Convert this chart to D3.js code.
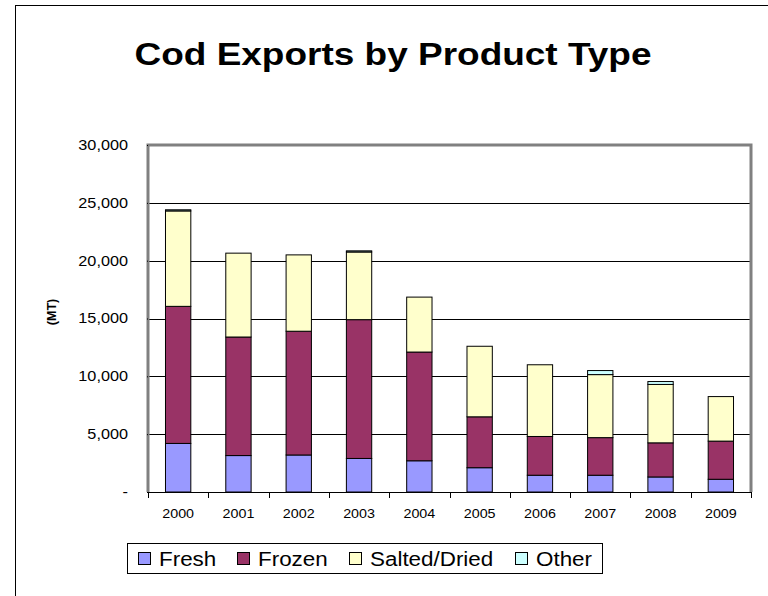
<!DOCTYPE html>
<html>
<head>
<meta charset="utf-8">
<script src="https://cdn.jsdelivr.net/npm/d3@7"></script>
<style>
  body { margin: 0; background: #fff; }
  svg { display: block; font-family: "Liberation Sans", Arial, sans-serif; }
</style>
</head>
<body>
<svg id="chart" width="768" height="596"></svg>
<script>
const years = ['2000', '2001', '2002', '2003', '2004', '2005', '2006', '2007', '2008', '2009']
const fresh = [4200, 3150, 3200, 2900, 2700, 2100, 1450, 1450, 1300, 1100]
const frozen = [11850, 10250, 10700, 12000, 9400, 4400, 3350, 3250, 2950, 3300]
const salted = [8250, 7250, 6600, 5850, 4750, 6100, 6200, 5450, 5050, 3850]
const other = [100, 0, 0, 100, 0, 0, 0, 350, 250, 0]
const seriesNames = ['Fresh', 'Frozen', 'Salted/Dried', 'Other']
const yTicks = [0, 5000, 10000, 15000, 20000, 25000, 30000]

const colors = ['#9999ff', '#993366', '#ffffcc', '#ccffff']
const FONT = '"Liberation Sans", Arial, sans-serif'

// the original chart is a bit wider than tall in its lettering
function stretch(sel, k) {
    sel.each(function() {
        const w = this.getComputedTextLength()
        d3.select(this).attr('textLength', w * k).attr('lengthAdjust', 'spacingAndGlyphs')
    })
}

const svg = d3.select('#chart')
const margin = {top: 145, right: 17, bottom: 104, left: 148}
const width = 768 - margin.left - margin.right
const height = 596 - margin.top - margin.bottom

// outer frame (cut off on right and bottom like the original)
svg.append('rect')
    .attr('x', 15.5).attr('y', 5.5)
    .attr('width', 800).attr('height', 700)
    .attr('fill', 'none').attr('stroke', '#000').attr('stroke-width', 1)

svg.append('text')
    .attr('x', 393).attr('y', 65)
    .attr('text-anchor', 'middle')
    .attr('font-size', 32).attr('font-weight', 'bold')
    .text('Cod Exports by Product Type')
    .attr('textLength', 517).attr('lengthAdjust', 'spacingAndGlyphs')

const table = years.map((y, i) => ({
    year: y, Fresh: fresh[i], Frozen: frozen[i], 'Salted/Dried': salted[i], Other: other[i]
}))
const stacked = d3.stack().keys(seriesNames)(table)

const x = d3.scaleBand().domain(years).range([0, width]).padding(0)
const y = d3.scaleLinear().domain([0, 30000]).range([height, 0])
const barW = x.step() * 0.42

const g = svg.append('g').attr('transform', `translate(${margin.left},${margin.top})`)

// gridlines
g.selectAll('line.grid')
    .data(yTicks.slice(1, -1))
    .join('line')
    .attr('class', 'grid')
    .attr('x1', 0).attr('x2', width)
    .attr('y1', d => Math.round(y(d)) + .5).attr('y2', d => Math.round(y(d)) + .5)
    .attr('stroke', '#000').attr('stroke-width', 1)

// bars
g.selectAll('g.series')
    .data(stacked)
    .join('g')
    .attr('class', 'series')
    .attr('fill', (d, i) => colors[i])
    .selectAll('rect')
    .data(d => d.filter(s => s[1] - s[0] > 0))
    .join('rect')
    .attr('x', d => x(d.data.year) + (x.step() - barW) / 2)
    .attr('y', d => y(d[1]))
    .attr('width', barW)
    .attr('height', d => y(d[0]) - y(d[1]))
    .attr('stroke', '#000').attr('stroke-width', 1)

// plot frame (grey) on left, top, right
g.append('path')
    .attr('d', `M0,${height} V0 H${width} V${height}`)
    .attr('fill', 'none').attr('stroke', '#808080').attr('stroke-width', 3)

// y axis
const yAxis = g.append('g')
    .call(d3.axisLeft(y).tickValues(yTicks).tickSize(5).tickPadding(15)
        .tickFormat(d => d === 0 ? '-' : d3.format(',')(d)))
yAxis.select('.domain').remove()
yAxis.selectAll('.tick line').attr('stroke', '#000').attr('x2', -1)
yAxis.selectAll('.tick text')
    .attr('font-size', 14).attr('font-family', FONT)
    .attr('fill', '#000')
    .call(stretch, 1.16)

// x axis
const xAxis = g.append('g').attr('transform', `translate(0,${height})`)
xAxis.append('line')
    .attr('x1', 0).attr('x2', width).attr('y1', .5).attr('y2', .5)
    .attr('stroke', '#000')
xAxis.selectAll('line.tick')
    .data(years.concat(['end']))
    .join('line')
    .attr('class', 'tick')
    .attr('x1', (d, i) => Math.round(i * x.step()) + .5)
    .attr('x2', (d, i) => Math.round(i * x.step()) + .5)
    .attr('y1', 0).attr('y2', 6)
    .attr('stroke', '#000')
xAxis.selectAll('text')
    .data(years)
    .join('text')
    .attr('x', d => x(d) + x.step() / 2)
    .attr('y', 26)
    .attr('text-anchor', 'middle')
    .attr('font-size', 13)
    .text(d => d)
    .call(stretch, 1.1)

// y axis title
svg.append('text')
    .attr('transform', 'translate(56,312) rotate(-90)')
    .attr('text-anchor', 'middle')
    .attr('font-size', 12.5).attr('font-weight', 'bold')
    .text('(MT)')

// legend
const legend = svg.append('g').attr('transform', 'translate(127,543)')
legend.append('rect')
    .attr('x', .5).attr('y', .5).attr('width', 475).attr('height', 30)
    .attr('fill', '#fff').attr('stroke', '#000')
const legendX = [11, 110, 222, 388]
const items = legend.selectAll('g.item')
    .data(seriesNames)
    .join('g')
    .attr('class', 'item')
    .attr('transform', (d, i) => `translate(${legendX[i]},0)`)
items.append('rect')
    .attr('x', .5).attr('y', 9.5).attr('width', 12).attr('height', 12)
    .attr('fill', (d, i) => colors[i]).attr('stroke', '#000')
items.append('text')
    .attr('x', 21).attr('y', 23)
    .attr('font-size', 20)
    .text(d => d)
    .call(stretch, 1.12)
</script>
</body>
</html>
